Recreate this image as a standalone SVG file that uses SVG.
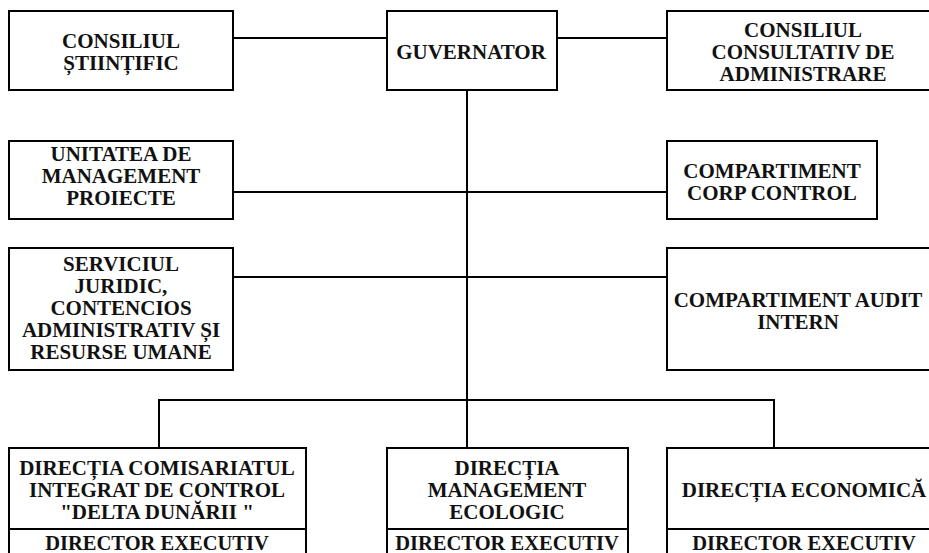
<svg xmlns="http://www.w3.org/2000/svg" width="929" height="553" viewBox="0 0 929 553">
<style>
.box{fill:#fff;stroke:#000;stroke-width:2}
.ln{fill:none;stroke:#000;stroke-width:2}
text{font-family:"Liberation Serif","Times New Roman",serif;font-weight:bold;font-size:21px;fill:#111;text-anchor:middle}
text.dir{font-size:20.5px}
</style>
<rect width="929" height="553" fill="#fff"/>
<g id="connectors">
<path class="ln" d="M233 38H387M557 38H667M467 90V400M233 192H667M233 277H667M159 448V400H774V448M467 400V448"/>
</g>
<g id="consiliul-stiintific">
<rect class="box" x="9" y="11" width="224" height="79"/>
<text x="121" y="48">CONSILIUL</text>
<text x="121" y="70">ȘTIINȚIFIC</text>
</g>
<g id="guvernator">
<rect class="box" x="387" y="11" width="170" height="79"/>
<text x="471" y="59">GUVERNATOR</text>
</g>
<g id="consiliul-consultativ">
<rect class="box" x="667" y="11" width="272" height="79"/>
<text x="803" y="37">CONSILIUL</text>
<text x="803" y="59">CONSULTATIV DE</text>
<text x="803" y="81">ADMINISTRARE</text>
</g>
<g id="unitatea">
<rect class="box" x="9" y="141" width="224" height="78"/>
<text x="121" y="161">UNITATEA DE</text>
<text x="121" y="183">MANAGEMENT</text>
<text x="121" y="205">PROIECTE</text>
</g>
<g id="corp-control">
<rect class="box" x="667" y="141" width="210" height="78"/>
<text x="772" y="178">COMPARTIMENT</text>
<text x="772" y="200">CORP CONTROL</text>
</g>
<g id="serviciul">
<rect class="box" x="9" y="248" width="224" height="122"/>
<text x="121" y="271">SERVICIUL</text>
<text x="121" y="293">JURIDIC,</text>
<text x="121" y="315">CONTENCIOS</text>
<text x="121" y="337">ADMINISTRATIV ȘI</text>
<text x="121" y="359">RESURSE UMANE</text>
</g>
<g id="audit">
<rect class="box" x="667" y="248" width="272" height="122"/>
<text x="798" y="307">COMPARTIMENT AUDIT</text>
<text x="798" y="329">INTERN</text>
</g>
<g id="directia-comisariatul">
<rect class="box" x="9" y="448" width="297" height="120"/>
<line class="ln" x1="9" y1="529" x2="306" y2="529"/>
<text x="157" y="475">DIRECȚIA COMISARIATUL</text>
<text x="157" y="497">INTEGRAT DE CONTROL</text>
<text x="157" y="519">"DELTA DUNĂRII "</text>
<text class="dir" x="157" y="550">DIRECTOR EXECUTIV</text>
</g>
<g id="directia-management">
<rect class="box" x="387" y="448" width="241" height="120"/>
<line class="ln" x1="387" y1="529" x2="628" y2="529"/>
<text x="507" y="475">DIRECȚIA</text>
<text x="507" y="497">MANAGEMENT</text>
<text x="507" y="519">ECOLOGIC</text>
<text class="dir" x="507" y="550">DIRECTOR EXECUTIV</text>
</g>
<g id="directia-economica">
<rect class="box" x="667" y="448" width="272" height="120"/>
<line class="ln" x1="667" y1="529" x2="939" y2="529"/>
<text x="804" y="497">DIRECȚIA ECONOMICĂ</text>
<text class="dir" x="804" y="550">DIRECTOR EXECUTIV</text>
</g>
</svg>
